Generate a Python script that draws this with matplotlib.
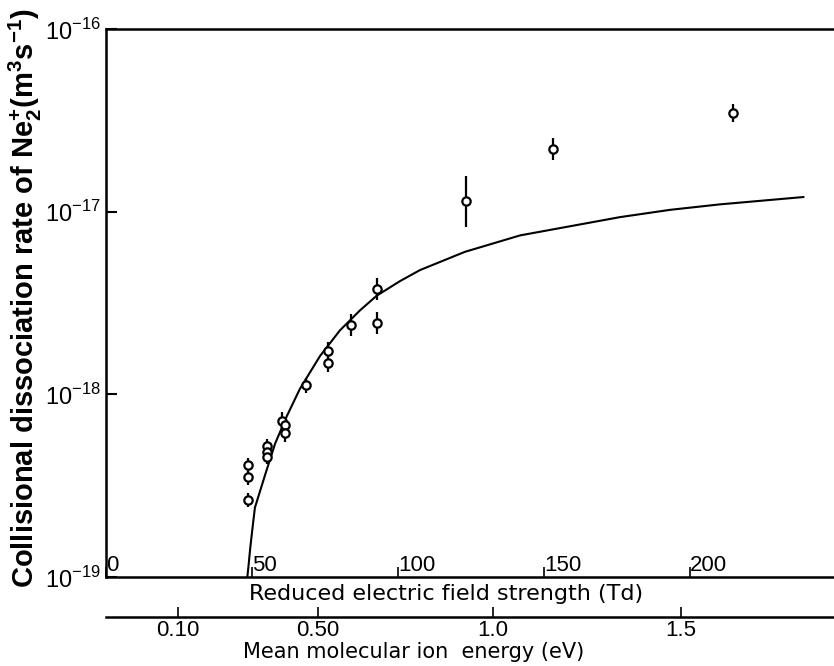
import numpy as np
import matplotlib
matplotlib.use("Agg")
import matplotlib.pyplot as plt

plt.rcParams["font.family"] = ["Liberation Sans", "DejaVu Sans"]
plt.rcParams["mathtext.fontset"] = "custom"
plt.rcParams["mathtext.rm"] = "Liberation Sans"
plt.rcParams["mathtext.bf"] = "Liberation Sans:bold"

# measured points: reduced field (Td), log10 of rate (m^3 s^-1), error (decades)
field_td = [48.7, 48.7, 48.7, 55.0, 55.0, 55.0, 60.1, 61.4, 61.4,
            68.5, 76.1, 76.1, 83.8, 92.7, 92.7, 123.2, 153.2, 214.8]
log_rate = [-18.388, -18.455, -18.578, -18.283, -18.315, -18.341, -18.148,
            -18.169, -18.213, -17.951, -17.763, -17.827, -17.621, -17.421,
            -17.608, -16.944, -16.656, -16.461]
log_err = [0.04, 0.04, 0.04, 0.04, 0.03, 0.04, 0.05, 0.04, 0.05,
           0.04, 0.05, 0.05, 0.06, 0.06, 0.06, 0.14, 0.06, 0.05]

# theory curve
curve_td = [48.4, 48.8, 49.4, 50.4, 51.0, 54.5, 57.9, 61.9, 66.4, 73.3, 80.1,
            87.0, 92.7, 100.7, 107.5, 122.9, 141.8, 158.9, 176.0, 193.2,
            210.3, 238.8]
curve_log = [-19.0, -18.94, -18.84, -18.70, -18.62, -18.44, -18.27, -18.12,
             -17.97, -17.79, -17.65, -17.54, -17.46, -17.38, -17.32, -17.22,
             -17.13, -17.08, -17.03, -16.99, -16.96, -16.92]

td_ticks = [0, 50, 100, 150, 200]
y_ticks = [1e-19, 1e-18, 1e-17, 1e-16]
y_labels = [r"$10^{-19}$", r"$10^{-18}$", r"$10^{-17}$", r"$10^{-16}$"]

# mean ion energy scale, read against the Td scale
energy_labels = ["0.10", "0.50", "1.0", "1.5"]
energy_at_td = [24.7, 72.6, 132.5, 196.9]

fig = plt.figure(figsize=(8.34, 6.66), dpi=100)
ax = fig.add_axes([0.1271, 0.1336, 0.8729, 0.8229])

rate = 10 ** np.array(log_rate)
lo = rate - 10 ** (np.array(log_rate) - np.array(log_err))
hi = 10 ** (np.array(log_rate) + np.array(log_err)) - rate

ax.plot(curve_td, 10 ** np.array(curve_log), color="black", lw=1.5)
ax.errorbar(field_td, rate, yerr=[lo, hi], fmt="o", ms=6, mfc="white",
            mec="black", mew=1.6, ecolor="black", elinewidth=1.6, capsize=0,
            zorder=3)

ax.set_yscale("log")
ax.set_ylim(1e-19, 1e-16)
ax.set_xlim(0, 249.3)
ax.set_yticks(y_ticks)
ax.set_yticklabels(y_labels)
ax.yaxis.set_minor_locator(matplotlib.ticker.NullLocator())
ax.tick_params(axis="y", direction="in", length=8, width=1.5, pad=4,
               labelsize=17)

ax.set_xticks(td_ticks)
ax.set_xticklabels([str(t) for t in td_ticks])
ax.tick_params(axis="x", direction="in", length=7, width=1.2, pad=-16,
               labelsize=16)
for lab in ax.get_xticklabels():
    lab.set_ha("left")

ax.spines["right"].set_visible(False)
for s in ["left", "top", "bottom"]:
    ax.spines[s].set_linewidth(1.8)

ax.set_ylabel(r"Collisional dissociation rate of Ne$_\mathbf{2}^\mathbf{+}$(m$^\mathbf{3}$s$^\mathbf{-1}$)",
              fontsize=21, fontweight="bold")
ax.yaxis.set_label_coords(44 / 834, 1 - 298 / 666, transform=fig.transFigure)

# lower energy axis
ax_e = fig.add_axes([0.1271, 1 - 617 / 666, 0.8729, 0.0001])
ax_e.set_xlim(0, 249.3)
ax_e.set_yticks([])
for s in ["left", "right", "top"]:
    ax_e.spines[s].set_visible(False)
ax_e.spines["bottom"].set_linewidth(1.8)
ax_e.set_xticks(energy_at_td)
ax_e.set_xticklabels(energy_labels)
ax_e.tick_params(axis="x", direction="in", length=7, width=1.2, pad=2,
                 labelsize=16)

fig.text(446 / 834, 1 - 594 / 666, "Reduced electric field strength (Td)",
         family="DejaVu Sans", fontsize=16, ha="center", va="center")
fig.text(414 / 834, 1 - 652 / 666, "Mean molecular ion  energy (eV)",
         family="DejaVu Sans", fontsize=15, ha="center", va="center")

fig.savefig("out.png", dpi=100)
